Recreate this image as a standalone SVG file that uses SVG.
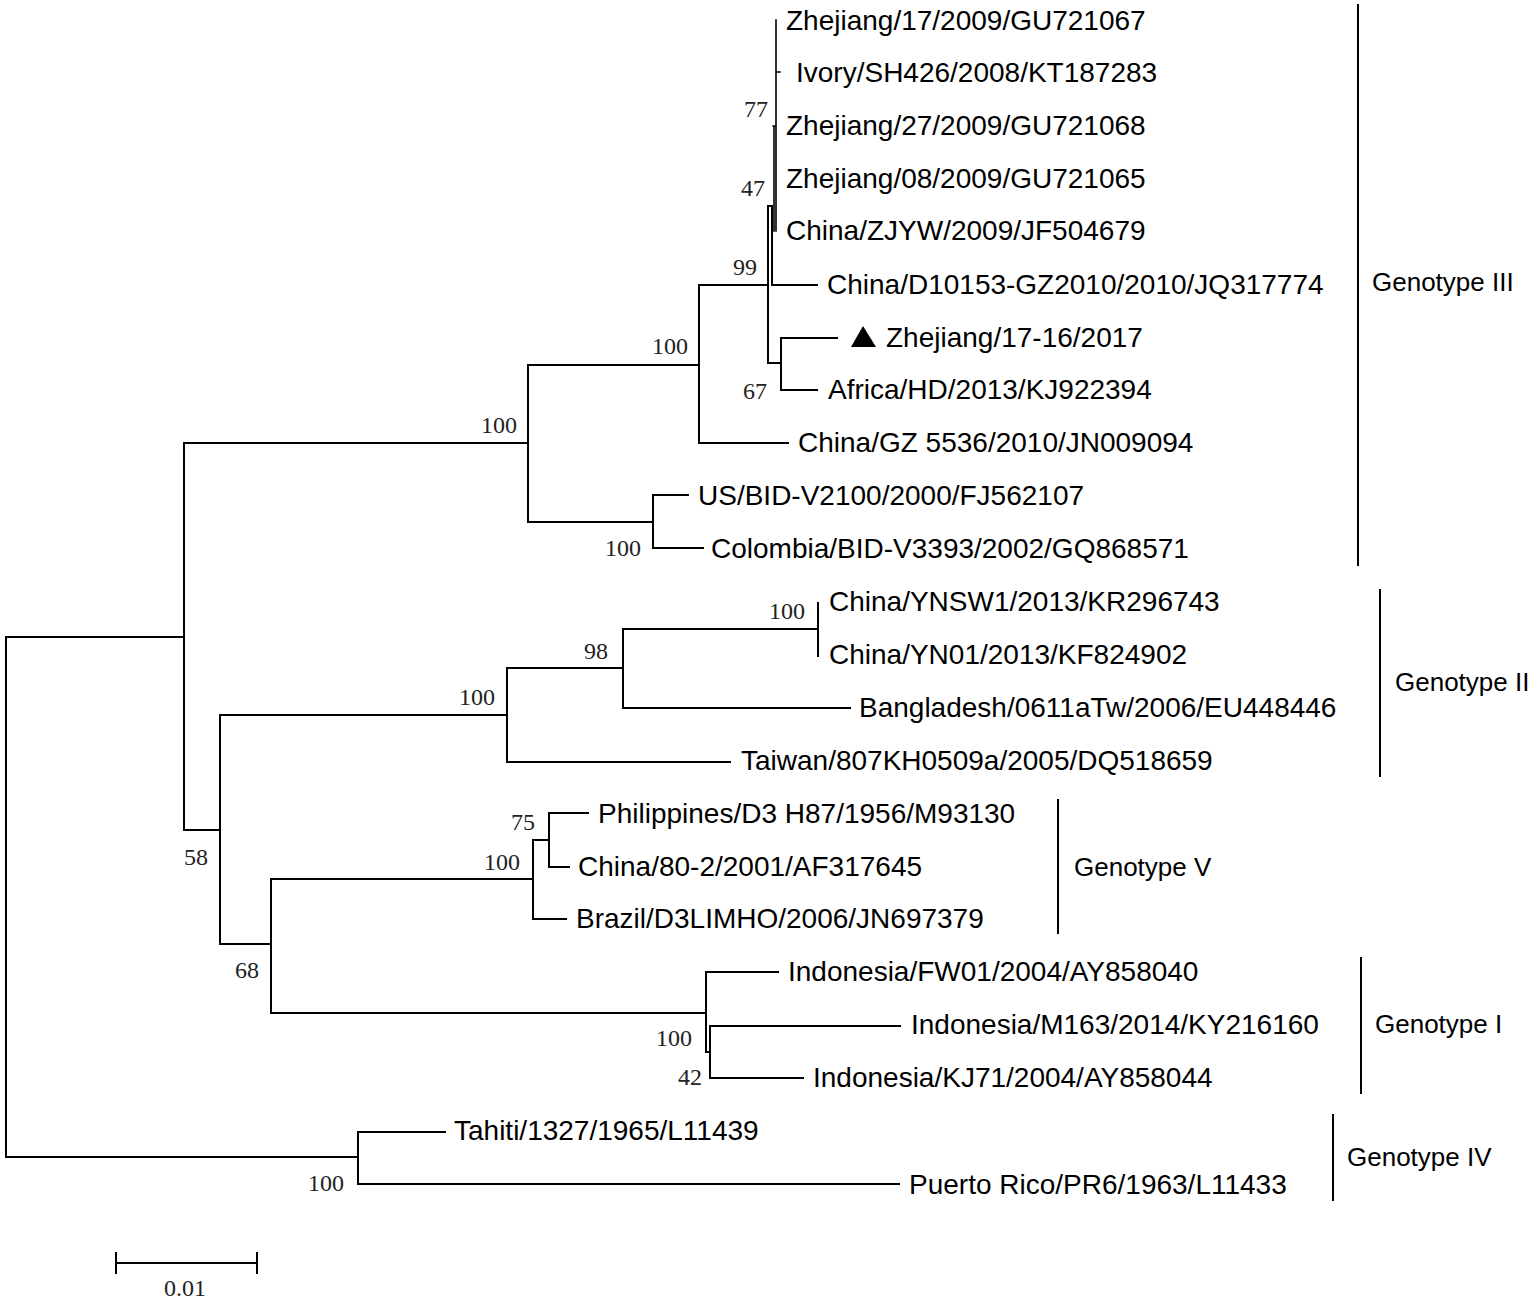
<svg xmlns="http://www.w3.org/2000/svg" width="1535" height="1304" viewBox="0 0 1535 1304">
<style>
.e{stroke:#000;stroke-width:2;fill:none;stroke-linecap:square}
.t{font-family:"Liberation Sans",Arial,sans-serif;font-size:28px;fill:#000}
.g{font-family:"Liberation Sans",Arial,sans-serif;font-size:26px;fill:#000}
.b{font-family:"Liberation Serif","Times New Roman",serif;font-size:24px;fill:#222}
.br{text-anchor:end}
</style>
<rect width="1535" height="1304" fill="#fff"/>
<g id="connectors">
<path class="e" d="M6,637V1157M6,637H184M6,1157H358"/>
<path class="e" d="M184,443V830M184,443H528M184,830H220"/>
<path class="e" d="M528,365V522M528,365H699M528,522H653"/>
<path class="e" d="M699,285V443M699,285H768M699,443H788"/>
<path class="e" d="M768,206V363M768,206H772M768,363H781"/>
<path class="e" d="M772,206V285M772,285H817"/>
<path class="e" d="M774,126V231M773,126H776M776,20V231M776,72H780" style="stroke-width:1.6"/>
<path class="e" d="M781,338V390M781,338H837M781,390H817"/>
<path class="e" d="M653,495V548M653,495H688M653,548H703"/>
<path class="e" d="M220,715V944M220,715H507M220,944H271"/>
<path class="e" d="M507,668V762M507,668H623M507,762H730"/>
<path class="e" d="M623,629V708M623,629H818M623,708H850"/>
<path class="e" d="M818,603V656"/>
<path class="e" d="M271,879V1013M271,879H533M271,1013H706"/>
<path class="e" d="M533,840V919M533,840H549M533,919H566M549,813V867M549,813H588M549,867H569"/>
<path class="e" d="M706,972V1052M706,972H778M706,1052H710M710,1026V1078M710,1026H900M710,1078H803"/>
<path class="e" d="M358,1132V1184M358,1132H445M358,1184H899"/>
<path class="e" d="M116,1263H257M116,1253V1273M257,1253V1273"/>
<path class="e" d="M1358,5V565M1380,590V776M1058,800V933M1361,958V1093M1333,1115V1200"/>
</g>
<g id="tips">
<text class="t" x="786" y="30">Zhejiang/17/2009/GU721067</text>
<text class="t" x="796" y="82">Ivory/SH426/2008/KT187283</text>
<text class="t" x="786" y="135">Zhejiang/27/2009/GU721068</text>
<text class="t" x="786" y="188">Zhejiang/08/2009/GU721065</text>
<text class="t" x="786" y="240">China/ZJYW/2009/JF504679</text>
<text class="t" x="827" y="294">China/D10153-GZ2010/2010/JQ317774</text>
<g id="marker-triangle"><polygon points="851,347 863,326 876,347" fill="#000"/></g>
<text class="t" x="886" y="347">Zhejiang/17-16/2017</text>
<text class="t" x="828" y="399">Africa/HD/2013/KJ922394</text>
<text class="t" x="798" y="452">China/GZ 5536/2010/JN009094</text>
<text class="t" x="698" y="505">US/BID-V2100/2000/FJ562107</text>
<text class="t" x="711" y="558">Colombia/BID-V3393/2002/GQ868571</text>
<text class="t" x="829" y="611">China/YNSW1/2013/KR296743</text>
<text class="t" x="829" y="664">China/YN01/2013/KF824902</text>
<text class="t" x="859" y="717">Bangladesh/0611aTw/2006/EU448446</text>
<text class="t" x="741" y="770">Taiwan/807KH0509a/2005/DQ518659</text>
<text class="t" x="598" y="823">Philippines/D3 H87/1956/M93130</text>
<text class="t" x="578" y="876">China/80-2/2001/AF317645</text>
<text class="t" x="576" y="928">Brazil/D3LIMHO/2006/JN697379</text>
<text class="t" x="788" y="981">Indonesia/FW01/2004/AY858040</text>
<text class="t" x="911" y="1034">Indonesia/M163/2014/KY216160</text>
<text class="t" x="813" y="1087">Indonesia/KJ71/2004/AY858044</text>
<text class="t" x="454" y="1140">Tahiti/1327/1965/L11439</text>
<text class="t" x="909" y="1194">Puerto Rico/PR6/1963/L11433</text>
</g>
<g id="bootstrap">
<text class="b br" x="768" y="117">77</text>
<text class="b br" x="765" y="196">47</text>
<text class="b br" x="757" y="275">99</text>
<text class="b br" x="767" y="399">67</text>
<text class="b br" x="688" y="354">100</text>
<text class="b br" x="517" y="433">100</text>
<text class="b br" x="641" y="556">100</text>
<text class="b br" x="805" y="619">100</text>
<text class="b br" x="608" y="659">98</text>
<text class="b br" x="495" y="705">100</text>
<text class="b br" x="535" y="830">75</text>
<text class="b br" x="520" y="870">100</text>
<text class="b br" x="208" y="865">58</text>
<text class="b br" x="259" y="978">68</text>
<text class="b br" x="692" y="1046">100</text>
<text class="b br" x="702" y="1085">42</text>
<text class="b br" x="344" y="1191">100</text>
<text class="b" x="185" y="1296" text-anchor="middle">0.01</text>
</g>
<g id="genotypes">
<text class="g" x="1372" y="291">Genotype III</text>
<text class="g" x="1395" y="691">Genotype II</text>
<text class="g" x="1074" y="876">Genotype V</text>
<text class="g" x="1375" y="1033">Genotype I</text>
<text class="g" x="1347" y="1166">Genotype IV</text>
</g>
</svg>
